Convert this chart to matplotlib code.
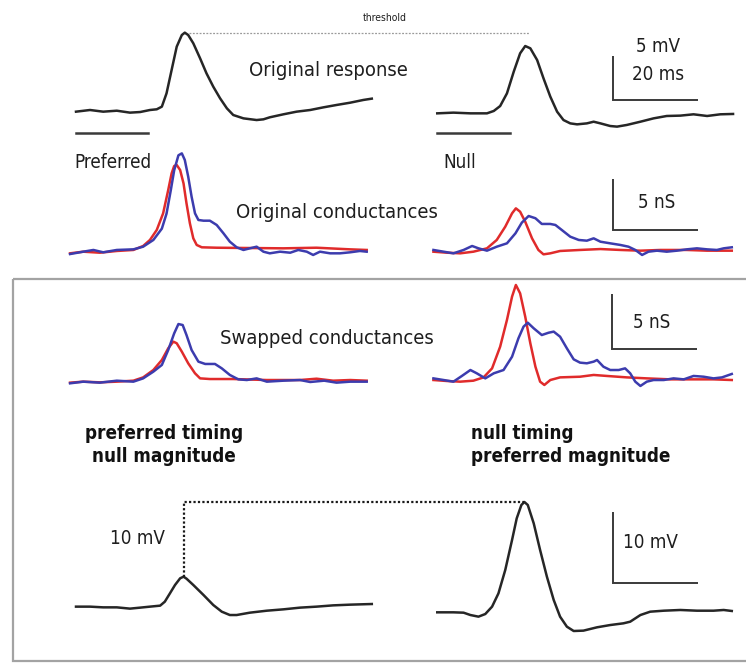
import matplotlib
matplotlib.use("Agg")
import matplotlib.pyplot as plt
from matplotlib.patches import Rectangle

plt.rcParams['font.family'] = 'DejaVu Sans'
plt.rcParams['font.stretch'] = 'condensed'

# time offset (ms) between the preferred (left) and null (right) traces
RIGHT_OFFSET = 85.0

# --- original membrane response (mV) ---
pref_resp_t = [0, 3.3, 6.4, 9.6, 12.7, 15.1, 17.4, 19.0, 20.2, 21.3, 22.5, 23.7, 24.9, 25.6,
               26.4, 27.6, 29.2, 30.7, 32.3, 33.9, 35.5, 37.0, 39.4, 42.5, 44.1, 45.6, 48.8,
               51.9, 55.1, 58.2, 61.3, 64.5, 67.6, 69.6]
pref_resp_v = [-0.19, 0.0, -0.19, -0.08, -0.30, -0.23, 0.0, 0.08, 0.38, 1.89, 4.55, 7.2, 8.52, 8.79,
               8.52, 7.58, 5.87, 4.17, 2.65, 1.33, 0.19, -0.57, -0.95, -1.14, -1.06, -0.83, -0.49,
               -0.19, 0.0, 0.30, 0.57, 0.83, 1.14, 1.29]
null_resp_t = [0, 3.8, 7.8, 11.7, 13.3, 14.8, 16.4, 18.0, 19.5, 20.7, 21.9, 23.5, 25.0, 26.6,
               28.2, 29.7, 31.3, 32.9, 35.2, 36.8, 38.4, 40.7, 42.3, 44.6, 47.8, 50.9, 54.0,
               57.2, 60.3, 63.5, 66.6, 69.6]
null_resp_v = [-0.38, -0.30, -0.38, -0.38, -0.11, 0.45, 1.89, 4.36, 6.44, 7.27, 7.01, 5.68, 3.60, 1.52,
               -0.19, -1.14, -1.52, -1.63, -1.52, -1.33, -1.52, -1.82, -1.89, -1.70, -1.33, -0.95, -0.68,
               -0.64, -0.49, -0.68, -0.49, -0.45]
stim_len = 17.0

# --- original conductances (nS) ---
pref_exc_t = [-1.4, 1.7, 5.6, 9.6, 13.5, 15.8, 17.4, 19.0, 20.5, 21.7, 22.5, 23.1, 23.7, 24.5,
              25.3, 26.0, 26.8, 27.6, 28.4, 29.6, 33.1, 40.9, 48.8, 56.6, 64.5, 68.4]
pref_exc_g = [-0.13, 0.03, -0.07, 0.10, 0.20, 0.59, 1.18, 2.16, 3.79, 6.08, 7.71, 8.43, 8.53, 8.04,
              6.73, 4.77, 2.81, 1.34, 0.69, 0.46, 0.42, 0.39, 0.36, 0.42, 0.26, 0.20]
pref_inh_t = [-1.4, 1.7, 4.1, 6.4, 9.6, 13.5, 15.8, 18.2, 20.2, 21.3, 22.3, 23.1, 24.1, 24.9,
              25.6, 26.4, 27.2, 28.0, 28.8, 30.0, 31.5, 33.1, 34.7, 36.2, 37.8, 39.4, 40.9,
              42.5, 44.1, 45.6, 48.0, 50.4, 52.3, 54.3, 55.8, 57.4, 59.8, 62.1, 64.5, 66.8, 68.4]
pref_inh_g = [-0.20, 0.03, 0.20, -0.03, 0.20, 0.26, 0.52, 1.18, 2.29, 3.76, 6.05, 8.01, 9.48, 9.67,
              9.02, 7.39, 5.42, 3.79, 3.14, 3.07, 3.07, 2.65, 1.83, 1.01, 0.46, 0.20, 0.36,
              0.52, 0.03, -0.13, 0.03, -0.07, 0.20, 0.03, -0.29, 0.03, -0.13, -0.13, -0.03, 0.10, 0.03]
null_exc_t = [-0.9, 2.3, 5.4, 8.5, 11.7, 14.0, 16.0, 17.6, 18.5, 19.5, 20.7, 22.3, 23.8, 25.0,
              26.6, 28.9, 33.6, 38.4, 43.1, 47.8, 52.5, 58.7, 63.5, 69.3]
null_exc_g = [0.03, -0.07, -0.13, 0.03, 0.36, 1.18, 2.48, 3.79, 4.28, 3.95, 2.97, 1.34, 0.20, -0.23,
              -0.13, 0.10, 0.20, 0.29, 0.20, 0.13, 0.20, 0.20, 0.13, 0.13]
null_inh_t = [-0.9, 1.5, 3.8, 6.2, 8.2, 9.7, 11.7, 14.0, 16.4, 18.4, 19.9, 21.5, 23.1, 24.6,
              26.6, 27.8, 29.3, 31.3, 33.3, 35.2, 36.8, 38.4, 40.7, 43.1, 45.0, 46.6, 48.2,
              49.7, 51.7, 54.0, 56.4, 58.7, 61.1, 63.5, 65.8, 67.4, 69.3]
null_inh_g = [0.20, 0.03, -0.13, 0.20, 0.59, 0.36, 0.13, 0.52, 0.85, 1.83, 2.88, 3.53, 3.31, 2.75,
              2.75, 2.65, 2.16, 1.50, 1.18, 1.11, 1.34, 1.01, 0.85, 0.69, 0.52, 0.20, -0.29,
              0.03, 0.13, 0.03, 0.13, 0.26, 0.36, 0.26, 0.20, 0.36, 0.46]

# --- swapped conductances (nS) ---
swap_l_exc_t = [-1.4, 1.7, 5.6, 9.6, 13.5, 15.8, 18.2, 20.2, 21.7, 22.9, 23.7, 24.9, 26.4, 28.0,
                29.2, 31.5, 37.0, 44.9, 52.7, 56.6, 60.5, 64.5, 68.4]
swap_l_exc_g = [-0.06, 0.03, -0.03, 0.03, 0.12, 0.42, 1.09, 2.0, 3.06, 3.67, 3.52, 2.76, 1.70, 0.79,
                0.33, 0.27, 0.27, 0.18, 0.18, 0.30, 0.12, 0.18, 0.12]
swap_l_inh_t = [-1.4, 1.7, 5.6, 9.6, 13.5, 15.8, 18.2, 20.2, 21.7, 23.1, 24.1, 25.1, 26.0, 27.2,
                28.8, 30.4, 32.7, 34.3, 36.2, 38.2, 40.2, 42.5, 44.9, 48.8, 52.7, 55.1, 58.4,
                61.3, 64.5, 68.4]
swap_l_inh_g = [-0.12, 0.03, -0.06, 0.12, 0.03, 0.33, 0.94, 1.55, 2.91, 4.42, 5.27, 5.18, 4.27, 2.91,
                1.85, 1.64, 1.64, 1.24, 0.64, 0.24, 0.18, 0.33, 0.03, 0.12, 0.18, 0.0, 0.12,
                -0.06, 0.03, 0.03]
swap_r_exc_t = [-0.9, 2.3, 5.4, 8.5, 10.9, 12.9, 14.8, 16.4, 17.6, 18.5, 19.5, 20.7, 21.9, 23.1,
                24.2, 25.2, 26.6, 28.9, 33.6, 36.8, 39.9, 44.6, 49.3, 54.8, 60.3, 65.0, 69.3]
swap_r_exc_g = [0.18, 0.09, 0.03, 0.12, 0.42, 1.24, 3.21, 5.64, 7.76, 8.82, 8.06, 5.94, 3.52, 1.39,
                0.03, -0.27, 0.18, 0.42, 0.48, 0.64, 0.55, 0.42, 0.33, 0.24, 0.24, 0.24, 0.18]
swap_r_inh_t = [-0.9, 1.5, 3.8, 5.8, 7.8, 9.3, 11.3, 13.3, 15.6, 17.6, 19.1, 20.3, 21.3, 22.7,
                24.6, 26.2, 27.4, 28.9, 30.5, 32.1, 33.6, 35.2, 36.8, 37.6, 39.1, 40.7, 42.7,
                44.2, 45.4, 46.6, 47.8, 49.3, 50.9, 53.3, 55.6, 58.0, 60.3, 62.7, 65.0, 67.0, 69.3]
swap_r_inh_g = [0.33, 0.18, 0.03, 0.55, 1.09, 0.79, 0.33, 0.79, 1.09, 2.30, 3.97, 5.03, 5.39, 4.88,
                4.27, 4.48, 4.58, 4.12, 3.06, 2.06, 1.76, 1.70, 1.85, 2.0, 1.39, 1.09, 1.09,
                1.24, 0.79, 0.03, -0.36, 0.03, 0.18, 0.18, 0.33, 0.24, 0.55, 0.48, 0.33, 0.42, 0.73]

# --- simulated responses to swapped conductances (mV) ---
swap_l_resp_t = [0, 3.3, 6.4, 9.6, 12.7, 15.1, 17.4, 19.8, 20.9, 22.1, 23.3, 24.5, 25.3, 26.0,
                 27.6, 30.0, 32.3, 34.3, 36.2, 37.8, 40.9, 44.9, 48.8, 52.7, 56.6, 60.5, 64.5, 69.6]
swap_l_resp_v = [0.05, 0.05, -0.05, -0.05, -0.23, -0.09, 0.05, 0.19, 0.75, 1.92, 3.10, 4.04, 4.27, 3.99,
                 3.10, 1.69, 0.28, -0.66, -1.13, -1.13, -0.80, -0.52, -0.33, -0.09, 0.05, 0.23, 0.33, 0.42]
swap_r_resp_t = [0, 3.8, 6.2, 7.8, 9.7, 11.3, 12.9, 14.4, 16.0, 17.6, 18.7, 19.8, 20.5, 21.3,
                 22.7, 24.2, 25.8, 27.4, 28.9, 30.5, 32.1, 34.4, 37.6, 40.7, 43.8, 45.4, 47.8,
                 50.1, 53.3, 57.2, 61.1, 65.0, 67.4, 69.3]
swap_r_resp_v = [-0.75, -0.75, -0.80, -1.13, -1.36, -0.99, 0.05, 1.92, 5.21, 9.44, 12.49, 14.37, 14.79, 14.37,
                 11.78, 8.03, 4.27, 0.99, -1.36, -2.77, -3.38, -3.33, -2.86, -2.54, -2.30, -2.07, -1.13,
                 -0.66, -0.52, -0.42, -0.52, -0.52, -0.42, -0.56]

W, H = 746, 663
fig = plt.figure(figsize=(W / 100, H / 100), dpi=100)

PX_PER_MS = 4.25
X0 = 76  # pixel column of t = 0 for the left traces


def row_axes(y0, px_per_unit):
    """Transparent full-figure axes: time in ms, y in row units, zero at pixel row y0."""
    ax = fig.add_axes([0, 0, 1, 1])
    ax.set_xlim(-X0 / PX_PER_MS, (W - X0) / PX_PER_MS)
    ax.set_ylim((y0 - H) / px_per_unit, y0 / px_per_unit)
    ax.axis('off')
    ax.patch.set_alpha(0)
    return ax


def shift(ts):
    return [t + RIGHT_OFFSET for t in ts]


def scale_bar(ax, t, v, height, length=20.0):
    ax.plot([t, t, t + length], [v + height, v, v], color='#3a3a3a', lw=1.4,
            solid_joinstyle='miter', solid_capstyle='butt')


BLACK = '#262626'
RED = '#e02b2b'
BLUE = '#3c3cae'
LW = 1.8

# row 1: original responses
ax1 = row_axes(110, 8.8)
ax1.plot(pref_resp_t, pref_resp_v, color=BLACK, lw=LW)
ax1.plot(shift(null_resp_t), null_resp_v, color=BLACK, lw=LW)
peak_i = pref_resp_v.index(max(pref_resp_v))
null_peak_i = null_resp_v.index(max(null_resp_v))
ax1.plot([pref_resp_t[peak_i] + 1, null_resp_t[null_peak_i] + RIGHT_OFFSET + 1],
         [pref_resp_v[peak_i]] * 2, color='#9a9a9a', lw=0.9, ls=(0, (1.5, 1.2)))
ax1.plot([0, stim_len], [-2.6, -2.6], color='#3a3a3a', lw=1.8)
ax1.plot([RIGHT_OFFSET, RIGHT_OFFSET + stim_len], [-2.6, -2.6], color='#3a3a3a', lw=1.8)
scale_bar(ax1, 126.4, 1.14, 5)

# row 2: original conductances
ax2 = row_axes(252, 10.2)
ax2.plot(pref_exc_t, pref_exc_g, color=RED, lw=LW)
ax2.plot(pref_inh_t, pref_inh_g, color=BLUE, lw=LW)
ax2.plot(shift(null_exc_t), null_exc_g, color=RED, lw=LW)
ax2.plot(shift(null_inh_t), null_inh_g, color=BLUE, lw=LW)
scale_bar(ax2, 126.4, 2.16, 5)

# row 3: swapped conductances
ax3 = row_axes(382, 11.0)
ax3.plot(swap_l_exc_t, swap_l_exc_g, color=RED, lw=LW)
ax3.plot(swap_l_inh_t, swap_l_inh_g, color=BLUE, lw=LW)
ax3.plot(shift(swap_r_exc_t), swap_r_exc_g, color=RED, lw=LW)
ax3.plot(shift(swap_r_inh_t), swap_r_inh_g, color=BLUE, lw=LW)
scale_bar(ax3, 126.1, 3.0, 5)

# row 4: responses to swapped conductances
ax4 = row_axes(607, 7.1)
ax4.plot(swap_l_resp_t, swap_l_resp_v, color=BLACK, lw=LW)
ax4.plot(shift(swap_r_resp_t), swap_r_resp_v, color=BLACK, lw=LW)
li = swap_l_resp_v.index(max(swap_l_resp_v))
ri = swap_r_resp_v.index(max(swap_r_resp_v))
ax4.plot([swap_l_resp_t[li], swap_l_resp_t[li], swap_r_resp_t[ri] + RIGHT_OFFSET],
         [swap_l_resp_v[li], swap_r_resp_v[ri], swap_r_resp_v[ri]],
         color='#1a1a1a', lw=1.6, ls=(0, (1, 1)))
scale_bar(ax4, 126.4, 3.38, 10)

# labels and frame, in pixel coordinates
ov = fig.add_axes([0, 0, 1, 1])
ov.set_xlim(0, W)
ov.set_ylim(H, 0)
ov.axis('off')
ov.patch.set_alpha(0)
ov.add_patch(Rectangle((13, 279), 760, 382, fill=False, ec='#a3a3a3', lw=1.6))

txt = dict(ha='center', va='center', color='#1e1e1e')
ov.text(385, 18, 'threshold', fontsize=7.5, **txt)
ov.text(328, 70, 'Original response', fontsize=14.5, **txt)
ov.text(658, 46, '5 mV', fontsize=13.5, **txt)
ov.text(658, 74, '20 ms', fontsize=13.5, **txt)
ov.text(113, 162, 'Preferred', fontsize=13.5, **txt)
ov.text(460, 162, 'Null', fontsize=13.5, **txt)
ov.text(337, 212, 'Original conductances', fontsize=14.5, **txt)
ov.text(657, 203, '5 nS', fontsize=13.5, **txt)
ov.text(327, 338, 'Swapped conductances', fontsize=14.5, **txt)
ov.text(652, 323, '5 nS', fontsize=13.5, **txt)
ov.text(164, 445, 'preferred timing\nnull magnitude', fontsize=13.5, fontweight='bold',
        ha='center', va='center', linespacing=1.3, color='#111111')
ov.text(471, 445, 'null timing\npreferred magnitude', fontsize=13.5, fontweight='bold',
        ha='left', va='center', linespacing=1.3, color='#111111')
ov.text(137, 538, '10 mV', fontsize=13.5, **txt)
ov.text(650, 542, '10 mV', fontsize=13.5, **txt)

fig.savefig('out.png', dpi=100)
